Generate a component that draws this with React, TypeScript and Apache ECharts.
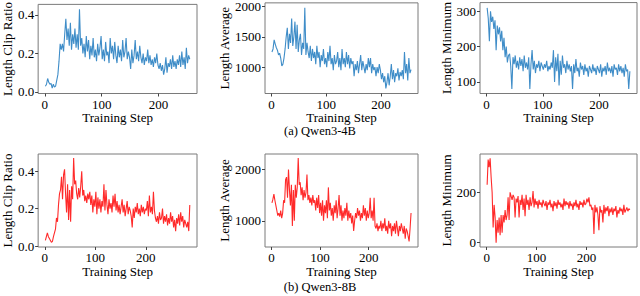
import React, { useEffect, useRef } from "react";
import * as echarts from "echarts";

// Qwen3-4B series (steps 1,3,5,...,255)
const clip4B = [
  0.03, 0.04, 0.07, 0.05, 0.04, 0.045, 0.02, 0.04, 0.025, 0.03,
  0.06, 0.09, 0.16, 0.25, 0.22,
  0.25, 0.21, 0.30, 0.38, 0.27,
  0.33, 0.24, 0.36, 0.22, 0.30,
  0.25, 0.33, 0.23, 0.30, 0.22,
  0.43, 0.24, 0.28, 0.20, 0.25,
  0.18, 0.29, 0.21, 0.27, 0.17,
  0.24, 0.19, 0.28, 0.18, 0.22,
  0.16, 0.25, 0.19, 0.23, 0.29,
  0.17, 0.22, 0.16, 0.26, 0.19,
  0.21, 0.15, 0.28, 0.20, 0.24,
  0.17, 0.26, 0.19, 0.15, 0.24,
  0.18, 0.22, 0.16, 0.27, 0.18,
  0.21, 0.28, 0.17, 0.21, 0.18,
  0.12, 0.22, 0.15, 0.19, 0.27,
  0.17, 0.21, 0.16, 0.24, 0.18,
  0.15, 0.20, 0.14, 0.18, 0.16,
  0.22, 0.15, 0.19, 0.14, 0.17,
  0.13, 0.18, 0.15, 0.20, 0.14,
  0.12, 0.15, 0.11, 0.14, 0.09,
  0.12, 0.18, 0.10, 0.15, 0.13,
  0.17, 0.12, 0.19, 0.13, 0.16,
  0.12, 0.17, 0.14, 0.19, 0.13,
  0.21, 0.14, 0.18, 0.12, 0.23,
  0.15, 0.19, 0.17,
];
const avg4B = [
  1250, 1300, 1450, 1380, 1320, 1280, 1200, 1230, 1150, 1020,
  1050, 1150, 1300, 1500, 1650,
  1300, 1550, 1400, 1800, 1350,
  1500, 1750, 1300, 1700, 1250,
  1450, 1550, 1200, 1400, 1300,
  1980, 1200, 1400, 1250, 1150,
  1350, 1100, 1300, 1150, 1250,
  1050, 1350, 1150, 1250, 1000,
  1200, 1100, 1300, 1050, 1150,
  1000, 1250, 1100, 1350, 1050,
  1150, 950, 1200, 1050, 1100,
  1250, 1000, 1150, 950, 1300,
  1050, 1150, 1000, 1250, 1050,
  1200, 980, 1150, 1050, 1100,
  850, 1050, 950, 1100, 900,
  1050, 1200, 950, 1100, 1000,
  900, 1050, 950, 1150, 1000,
  1150, 900, 1050, 950, 1000,
  850, 1000, 900, 1050, 950,
  800, 900, 750, 850, 650,
  750, 900, 700, 850, 1050,
  800, 950, 750, 900, 850,
  980, 780, 920, 850, 950,
  800, 1250, 900, 1050, 780,
  1150, 900, 960,
];
const min4B = [
  310, 280, 215, 300, 270, 285, 250, 275, 190, 260,
  235, 255, 215, 245, 190,
  225, 170, 200, 155, 175,
  180, 145, 80, 170, 150,
  175, 140, 160, 135, 170,
  145, 165, 130, 175, 140,
  155, 135, 170, 80, 150,
  190, 135, 160, 125, 150,
  140, 160, 130, 155, 145,
  135, 150, 140, 160, 130,
  145, 135, 155, 140, 190,
  100, 170, 130, 180, 90,
  160, 120, 175, 140, 150,
  125, 160, 135, 150, 130,
  145, 80, 150, 125, 165,
  130, 140, 115, 155, 135,
  145, 120, 150, 130, 140,
  115, 145, 135, 125, 150,
  130, 140, 120, 145, 135,
  125, 150, 115, 140, 130,
  145, 120, 155, 130, 140,
  125, 145, 115, 150, 135,
  140, 120, 150, 130, 145,
  125, 140, 115, 150, 130,
  135, 80, 130,
];

// Qwen3-8B series (steps 1,3,5,...,287)
const clip8B = [
  0.03, 0.05, 0.07, 0.05, 0.04, 0.03, 0.02, 0.025, 0.05, 0.07,
  0.09, 0.15, 0.13, 0.22, 0.28,
  0.30, 0.37, 0.25, 0.38, 0.41,
  0.28, 0.18, 0.33, 0.14, 0.30,
  0.13, 0.32, 0.25, 0.47, 0.33,
  0.35, 0.28, 0.25, 0.31, 0.26,
  0.32, 0.40, 0.27, 0.30, 0.24,
  0.27, 0.23, 0.28, 0.25, 0.29,
  0.22, 0.27, 0.18, 0.25, 0.21,
  0.29, 0.17, 0.26, 0.20, 0.25,
  0.18, 0.24, 0.21, 0.33, 0.19,
  0.30, 0.22, 0.17, 0.25, 0.20,
  0.23, 0.18, 0.27, 0.21, 0.28,
  0.19, 0.24, 0.18, 0.22, 0.17,
  0.21, 0.25, 0.18, 0.22, 0.16,
  0.20, 0.24, 0.17, 0.21, 0.19,
  0.16, 0.10, 0.20, 0.15, 0.21,
  0.18, 0.23, 0.17, 0.20, 0.16,
  0.22, 0.18, 0.21, 0.17, 0.20,
  0.19, 0.24, 0.16, 0.27, 0.18,
  0.21, 0.17, 0.29, 0.19, 0.15,
  0.13, 0.16, 0.12, 0.18, 0.14,
  0.15, 0.20, 0.12, 0.16, 0.13,
  0.17, 0.11, 0.15, 0.12, 0.18,
  0.13, 0.16, 0.10, 0.14, 0.08,
  0.15, 0.12, 0.17, 0.11, 0.18,
  0.13, 0.16, 0.10, 0.14, 0.12,
  0.10, 0.13, 0.08, 0.22,
];
const avg8B = [
  1350, 1420, 1520, 1400, 1300, 1200, 1100, 1150, 1080, 1200,
  1050, 1150, 1400, 1350, 1800,
  1850, 1450, 2000, 1600, 1300,
  1700, 900, 1600, 1000, 1700,
  1450, 1650, 2220, 1700, 1750,
  1500, 1650, 1400, 1600, 1450,
  1550, 1900, 1400, 1500, 1350,
  1450, 1300, 1500, 1350, 1400,
  1200, 1450, 1250, 1500, 1150,
  1350, 1100, 1400, 1000, 1300,
  1150, 1400, 1050, 1650, 1200,
  1350, 1100, 1250, 1000, 1300,
  1150, 1400, 1050, 1250, 1500,
  1100, 1300, 1000, 1200, 1050,
  1250, 1100, 1350, 1000, 1200,
  1050, 1150, 950, 1100, 800,
  1000, 1150, 1050, 1250, 1100,
  1200, 1000, 1150, 1050, 1300,
  1100, 1250, 1000, 1200, 1050,
  1150, 1450, 1050, 1200, 1000,
  1450, 900, 850, 950, 800,
  900, 850, 1000, 800, 950,
  850, 1050, 800, 900, 750,
  1000, 850, 950, 700, 900,
  800, 950, 750, 1000, 850,
  700, 900, 800, 950, 850,
  750, 900, 650, 850, 800,
  700, 600, 850, 1150,
];
const min8B = [
  230, 330, 300, 335, 260, 200, 60, 150, 100, 0,
  90, 40, 100, 30, 110,
  40, 110, 80, 130, 90,
  110, 180, 90, 200, 185,
  170, 190, 180, 100, 175,
  160, 185, 100, 170, 150,
  190, 130, 175, 105, 190,
  150, 170, 130, 180, 145,
  160, 205, 140, 175, 150,
  165, 135, 170, 150, 160,
  140, 170, 155, 145, 165,
  130, 160, 150, 170, 140,
  155, 125, 165, 145, 160,
  135, 170, 150, 160, 140,
  155, 130, 175, 145, 165,
  150, 160, 135, 165, 145,
  155, 130, 160, 145, 170,
  140, 155, 130, 165, 150,
  160, 140, 170, 150, 155,
  175, 160, 180, 145, 150,
  130, 140, 35, 150, 120,
  140, 110, 50, 145, 120,
  130, 80, 150, 115, 140,
  125, 145, 105, 135, 120,
  140, 110, 135, 125, 145,
  100, 130, 115, 140, 125,
  135, 110, 150, 120, 130,
  140, 125, 135, 130,
];

const xTicks = [0, 100, 200];
const yTicks = [
  [0, 0.2, 0.4],
  [1000, 1500, 2000],
  [100, 200, 300],
  [0, 0.2, 0.4],
  [1000, 2000],
  [0, 200],
];
const yNames = [
  "Length Clip Ratio",
  "Length Average",
  "Length Minimum",
  "Length Clip Ratio",
  "Length Average",
  "Length Minimum",
];
const captions = ["(a) Qwen3-4B", "(b) Qwen3-8B"];

const FONT = "'Liberation Serif', 'DejaVu Serif', serif";
const BLUE = "#3f8dc8";
const RED = "#ff2a2a";

export default function App() {
  const ref = useRef<HTMLDivElement>(null);
  useEffect(() => {
    if (!ref.current) return;
    const chart = echarts.init(ref.current, undefined, { renderer: "svg" });

    const allVals = [clip4B, avg4B, min4B, clip8B, avg8B, min8B];
    const grids = [
      { left: 35, top: 1, width: 162, height: 92.5 },
      { left: 265, top: 1, width: 153, height: 92.5 },
      { left: 480, top: 1, width: 157, height: 92.5 },
      { left: 35, top: 154, width: 162, height: 93 },
      { left: 265, top: 154, width: 153, height: 93 },
      { left: 480, top: 154, width: 157, height: 93 },
    ];
    const xRange = [
      [-11.7, 267.7],
      [-11.7, 267.7],
      [-11.7, 267.7],
      [-13.3, 301.3],
      [-13.3, 301.3],
      [-13.3, 301.3],
    ];
    const yRange = [
      [-0.008, 0.455],
      [565, 2060],
      [67, 325],
      [-0.005, 0.492],
      [490, 2300],
      [-17, 352],
    ];
    const yNameGap = [18, 30, 25, 18, 30, 25];
    const yFmt = [
      (v: number) => v.toFixed(1),
      (v: number) => String(v),
      (v: number) => String(v),
      (v: number) => v.toFixed(1),
      (v: number) => String(v),
      (v: number) => String(v),
    ];

    const textStyle = { fontFamily: FONT, fontSize: 13, color: "#000" };

    const option: any = {
      animation: false,
      grid: grids.map((g) => ({
        ...g,
        show: true,
        borderColor: "#7a7a7a",
        borderWidth: 1,
        backgroundColor: "transparent",
      })),
      xAxis: grids.map((_, i) => ({
        type: "value",
        gridIndex: i,
        min: xRange[i][0],
        max: xRange[i][1],
        name: "Training Step",
        nameLocation: "middle",
        nameGap: i < 3 ? 11 : 12,
        nameTextStyle: { ...textStyle, lineHeight: 13 },
        axisLine: { show: false, onZero: false },
        axisTick: { show: true, length: 3, customValues: xTicks, lineStyle: { color: "#444" } },
        axisLabel: { ...textStyle, margin: 4, customValues: xTicks, formatter: (v: number) => String(v) },
        splitLine: { show: false },
      })),
      yAxis: grids.map((_, i) => ({
        type: "value",
        gridIndex: i,
        min: yRange[i][0],
        max: yRange[i][1],
        name: yNames[i],
        nameLocation: "middle",
        nameGap: yNameGap[i],
        nameTextStyle: textStyle,
        axisLine: { show: false, onZero: false },
        axisTick: { show: true, length: 3, customValues: yTicks[i], lineStyle: { color: "#444" } },
        axisLabel: { ...textStyle, margin: 4, customValues: yTicks[i], formatter: yFmt[i] },
        splitLine: { show: false },
      })),
      series: allVals.map((vals, i) => ({
        type: "line",
        xAxisIndex: i,
        yAxisIndex: i,
        showSymbol: false,
        symbol: "none",
        data: vals.map((v, k) => [1 + 2 * k, v]),
        lineStyle: { width: 1.1, color: i < 3 ? BLUE : RED },
        itemStyle: { color: i < 3 ? BLUE : RED },
      })),
      graphic: [
        {
          type: "text",
          left: "center",
          top: 124.5,
          style: { text: captions[0], font: `12.5px ${FONT}`, fill: "#000" },
        },
        {
          type: "text",
          left: "center",
          top: 280,
          style: { text: captions[1], font: `12.5px ${FONT}`, fill: "#000" },
        },
      ],
    };
    chart.setOption(option);
    return () => chart.dispose();
  }, []);
  return (
    <div
      ref={ref}
      style={{ position: "fixed", left: 0, top: 0, width: 640, height: 296, background: "#fff" }}
    />
  );
}
